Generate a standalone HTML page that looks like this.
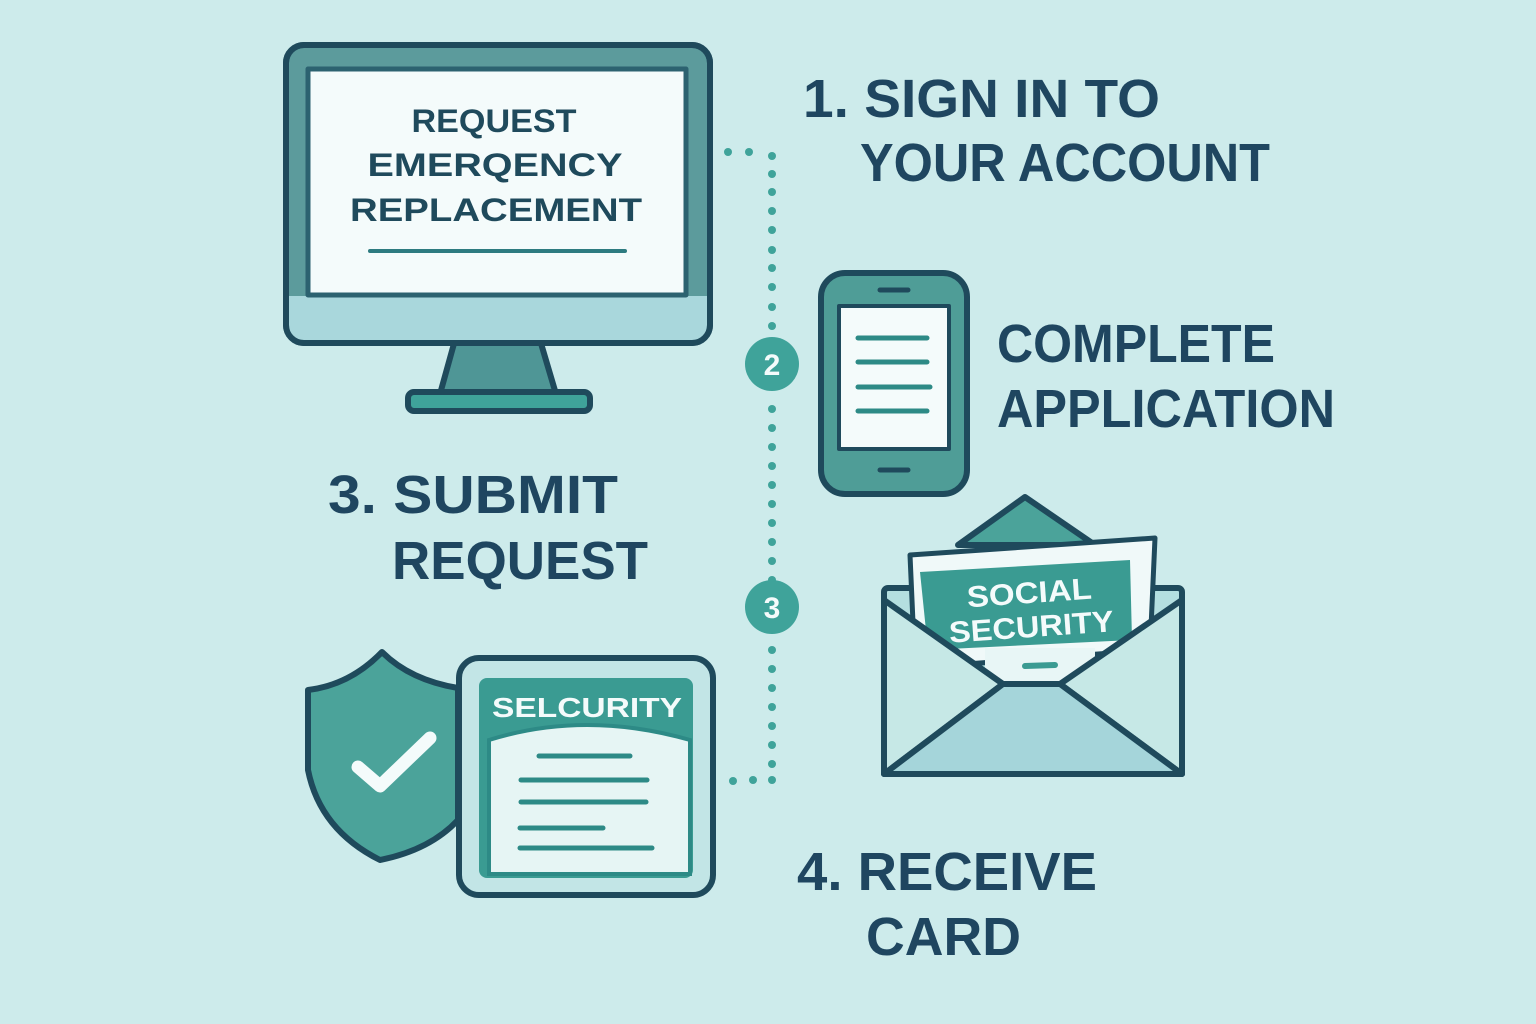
<!DOCTYPE html>
<html><head><style>html,body{margin:0;padding:0;background:#cdebeb}svg{display:block}</style></head><body>
<svg width="1536" height="1024" viewBox="0 0 1536 1024" xmlns="http://www.w3.org/2000/svg">
<rect width="1536" height="1024" fill="#cdebeb"/>
<g stroke="#1f4a5c" stroke-width="6" stroke-linejoin="round">
<!-- monitor -->
<polygon points="455,340 540,340 556,394 440,394" fill="#4f9696"/>
<rect x="408" y="392" width="182" height="19" rx="6" fill="#3fa39a"/>
<rect x="286" y="45" width="424" height="298" rx="18" fill="#5c9b9c"/>
<path d="M289,296 H707 V325 Q707,340 692,340 H304 Q289,340 289,325 Z" fill="#a9d7dc" stroke="none"/>
<rect x="286" y="45" width="424" height="298" rx="18" fill="none"/>
<rect x="308" y="69" width="378" height="226" fill="#f4fbfb" stroke="#2c6270" stroke-width="5"/>
</g>
<line x1="370" y1="251" x2="625" y2="251" stroke="#2d7b80" stroke-width="4" stroke-linecap="round"/>
<g font-family="Liberation Sans, sans-serif" font-weight="bold" fill="#1f4a5c" font-size="32" text-anchor="middle">
<text x="494" y="132" textLength="165" lengthAdjust="spacingAndGlyphs">REQUEST</text>
<text x="495" y="176" textLength="255" lengthAdjust="spacingAndGlyphs">EMERQENCY</text>
<text x="496" y="221" textLength="292" lengthAdjust="spacingAndGlyphs">REPLACEMENT</text>
</g>
<!-- dotted connector -->
<g fill="#3fa39a">
<circle cx="728" cy="152" r="4"/><circle cx="749" cy="152" r="4"/>
<circle cx="772" cy="156" r="4"/><circle cx="772" cy="174" r="4"/><circle cx="772" cy="192" r="4"/><circle cx="772" cy="211" r="4"/><circle cx="772" cy="230" r="4"/><circle cx="772" cy="250" r="4"/><circle cx="772" cy="268" r="4"/><circle cx="772" cy="287" r="4"/><circle cx="772" cy="307" r="4"/><circle cx="772" cy="326" r="4"/>
<circle cx="772" cy="409" r="4"/><circle cx="772" cy="428" r="4"/><circle cx="772" cy="447" r="4"/><circle cx="772" cy="466" r="4"/><circle cx="772" cy="485" r="4"/><circle cx="772" cy="504" r="4"/><circle cx="772" cy="523" r="4"/><circle cx="772" cy="542" r="4"/><circle cx="772" cy="561" r="4"/><circle cx="772" cy="580" r="4"/>
<circle cx="772" cy="650" r="4"/><circle cx="772" cy="669" r="4"/><circle cx="772" cy="688" r="4"/><circle cx="772" cy="707" r="4"/><circle cx="772" cy="726" r="4"/><circle cx="772" cy="745" r="4"/><circle cx="772" cy="764" r="4"/><circle cx="772" cy="780" r="4"/>
<circle cx="753" cy="780" r="4"/><circle cx="733" cy="781" r="4"/>
<circle cx="772" cy="364" r="27"/><circle cx="772" cy="607" r="27"/>
</g>
<g font-family="Liberation Sans, sans-serif" font-weight="bold" fill="#f4fbfb" font-size="30" text-anchor="middle">
<text x="772" y="375">2</text><text x="772" y="618">3</text>
</g>
<!-- phone -->
<g stroke="#1f4a5c" stroke-width="6" stroke-linejoin="round">
<rect x="821" y="273" width="146" height="221" rx="24" fill="#4f9d97"/>
<rect x="839" y="306" width="110" height="143" fill="#f4fbfb" stroke-width="4"/>
</g>
<g stroke="#2d8a86" stroke-width="5" stroke-linecap="round">
<line x1="858" y1="338" x2="927" y2="338"/><line x1="858" y1="362" x2="927" y2="362"/><line x1="858" y1="387" x2="930" y2="387"/><line x1="858" y1="411" x2="927" y2="411"/>
</g>
<line x1="880" y1="290" x2="908" y2="290" stroke="#1f4a5c" stroke-width="5" stroke-linecap="round"/>
<line x1="880" y1="470" x2="908" y2="470" stroke="#1f4a5c" stroke-width="5" stroke-linecap="round"/>
<!-- shield -->
<path d="M382,652 Q410,680 458,688 L458,820 Q430,850 380,860 Q320,830 308,770 L308,690 Q350,685 382,652 Z" fill="#4ba39a" stroke="#1f4a5c" stroke-width="6" stroke-linejoin="round"/>
<path d="M358,767 L380,786 L430,738" fill="none" stroke="#f4fbfb" stroke-width="13" stroke-linecap="round" stroke-linejoin="round"/>
<!-- security card -->
<g stroke="#1f4a5c" stroke-width="6" stroke-linejoin="round">
<rect x="459" y="658" width="254" height="237" rx="20" fill="#c2e5e6"/>
</g>
<rect x="479" y="678" width="214" height="200" rx="8" fill="#3a9b92"/>
<path d="M489,740 Q585,710 690,740 L690,874 L489,874 Z" fill="#e6f5f4" stroke="#2d8a86" stroke-width="4"/>
<g stroke="#2d8a86" stroke-width="5" stroke-linecap="round">
<line x1="539" y1="756" x2="630" y2="756"/><line x1="521" y1="780" x2="647" y2="780"/><line x1="521" y1="802" x2="646" y2="802"/><line x1="520" y1="828" x2="603" y2="828"/><line x1="520" y1="848" x2="652" y2="848"/>
</g>
<text x="587" y="717" text-anchor="middle" font-family="Liberation Sans, sans-serif" font-weight="bold" font-size="28" fill="#f4fbfb" textLength="190" lengthAdjust="spacingAndGlyphs">SELCURITY</text>
<!-- envelope -->
<g stroke="#1f4a5c" stroke-width="6" stroke-linejoin="round">
<polygon points="958,545 1025,497 1095,545" fill="#4ba39a"/>
<rect x="884" y="588" width="298" height="186" rx="4" fill="#b4dfe0"/>
<polygon points="910,555 1155,538 1150,650 915,668" fill="#f0f9f9" stroke-width="5"/>
<polygon points="920,572 1130,560 1132,640 928,650" fill="#3a9b92" stroke="none"/>
<rect x="985" y="648" width="110" height="40" fill="#e8f6f6" stroke="none"/>
<polygon points="884,600 1003,684 884,774" fill="#c6e8e6"/>
<polygon points="1182,600 1060,684 1182,774" fill="#c6e8e6"/>
<polygon points="884,774 1003,684 1060,684 1182,774" fill="#a5d5da"/>
</g>
<line x1="1025" y1="666" x2="1055" y2="665" stroke="#3a9b92" stroke-width="6" stroke-linecap="round"/>
<g font-family="Liberation Sans, sans-serif" font-weight="bold" font-size="30" fill="#f4fbfb" text-anchor="middle">
<text x="1030" y="603" transform="rotate(-4 1030 603)" textLength="125" lengthAdjust="spacingAndGlyphs">SOCIAL</text>
<text x="1032" y="637" transform="rotate(-4 1032 637)" textLength="165" lengthAdjust="spacingAndGlyphs">SECURITY</text>
</g>
<!-- headings -->
<g font-family="Liberation Sans, sans-serif" font-weight="bold" fill="#1f4660" font-size="54">
<text x="803" y="117" textLength="357" lengthAdjust="spacingAndGlyphs">1. SIGN IN TO</text>
<text x="860" y="181" textLength="410" lengthAdjust="spacingAndGlyphs">YOUR ACCOUNT</text>
<text x="997" y="362" textLength="278" lengthAdjust="spacingAndGlyphs">COMPLETE</text>
<text x="997" y="427" textLength="338" lengthAdjust="spacingAndGlyphs">APPLICATION</text>
<text x="328" y="513" textLength="290" lengthAdjust="spacingAndGlyphs">3. SUBMIT</text>
<text x="392" y="579" textLength="256" lengthAdjust="spacingAndGlyphs">REQUEST</text>
<text x="797" y="890" textLength="300" lengthAdjust="spacingAndGlyphs">4. RECEIVE</text>
<text x="866" y="955" textLength="155" lengthAdjust="spacingAndGlyphs">CARD</text>
</g>
</svg>
</body></html>
